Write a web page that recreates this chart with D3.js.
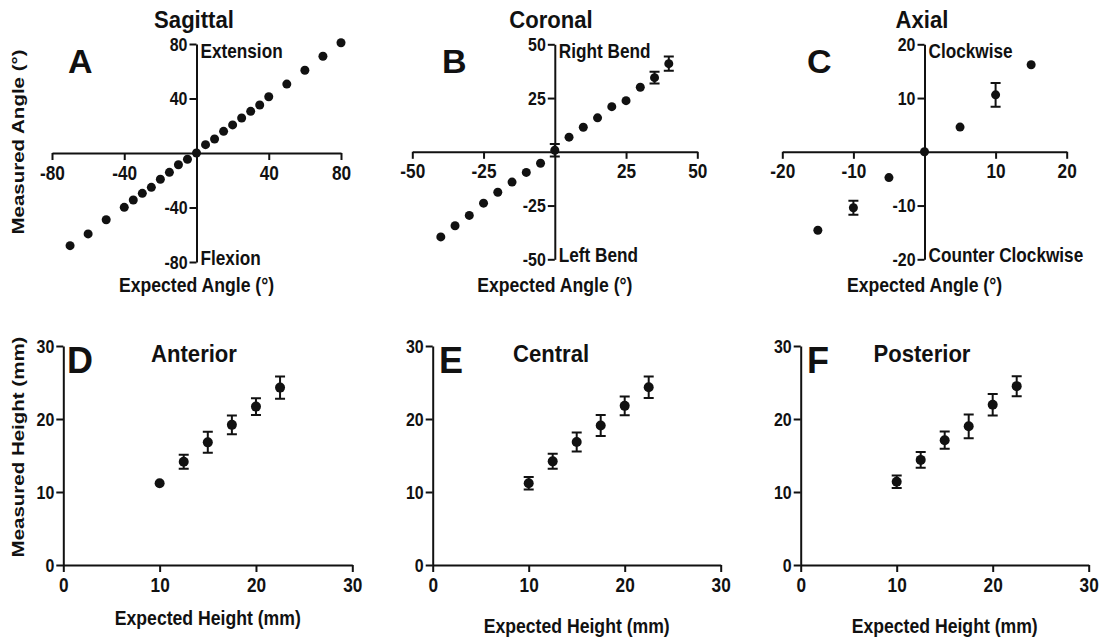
<!DOCTYPE html>
<html>
<head>
<meta charset="utf-8">
<script src="https://cdn.jsdelivr.net/npm/d3@7"></script>
<style>
  body { margin: 0; background: #fff; }
  svg { display: block; font-family: "Liberation Sans", Arial, sans-serif; font-weight: bold; }
</style>
</head>
<body>
<svg id="chart" width="1102" height="641"></svg>
<script>
// ---------- data ----------
const sagExpected = [-70, -60, -50, -40, -35, -30, -25, -20, -15, -10, -5, 0, 5, 10, 15, 20, 25, 30, 35, 40, 50, 60, 70, 80];
const sagMeasured = [-68, -59.4, -49, -39.9, -34.5, -29.6, -25.2, -19.3, -14.2, -8.6, -4.6, 0, 6.1, 10.3, 15.9, 20.6, 25.7, 30.6, 35.2, 41.3, 50.6, 60.7, 71, 80.9];
const sagTicks = [-80, -40, 40, 80];

const corExpected = [-40, -35, -30, -25, -20, -15, -10, -5, 0, 5, 10, 15, 20, 25, 30, 35, 40];
const corMeasured = [-39.6, -34.4, -29.6, -23.9, -18.8, -14.1, -9.6, -5.3, 0.7, 6.8, 11.4, 15.8, 21, 23.8, 30, 34.5, 41];
const corError = [0, 0, 0, 0, 0, 0, 0, 0, 2.9, 0, 0, 0, 0, 0, 0, 2.7, 3.3];
const corTicks = [-50, -25, 25, 50];

const axExpected = [-15, -10, -5, 0, 5, 10, 15];
const axMeasured = [-14.6, -10.4, -4.8, 0, 4.6, 10.6, 16.2];
const axError = [0, 1.3, 0, 0, 0, 2.2, 0];
const axTicks = [-20, -10, 10, 20];

const heightExpected = [10, 12.5, 15, 17.5, 20, 22.5];
const antMeasured = [11.2, 14.15, 16.8, 19.2, 21.7, 24.3];
const antError = [0, 0.96, 1.44, 1.28, 1.14, 1.53];
const cenMeasured = [11.2, 14.2, 16.85, 19.1, 21.8, 24.35];
const cenError = [0.85, 1.03, 1.3, 1.44, 1.28, 1.48];
const posMeasured = [11.4, 14.4, 17.1, 19.0, 21.95, 24.5];
const posError = [0.85, 1.07, 1.19, 1.62, 1.46, 1.37];
const heightTicks = [0, 10, 20, 30];

// ---------- layout ----------
const ink = '#111';
const panels = [
  { letter: 'A', title: 'Sagittal', xs: sagExpected, ys: sagMeasured, err: null,
    dom: [-80, 80], ticks: sagTicks, xPx: [52, 341], yPx: [262, 44], r: 4.5,
    top: 'Extension', bottom: 'Flexion', xTitle: 'Expected Angle (°)', yTitle: 'Measured Angle (°)',
    letterAt: [68, 73, 34], titleAt: [194, 28], xTitleY: 292, yTitleY: 142 },
  { letter: 'B', title: 'Coronal', xs: corExpected, ys: corMeasured, err: corError,
    dom: [-50, 50], ticks: corTicks, xPx: [412.3, 697.3], yPx: [259.3, 44.3], r: 4.5,
    top: 'Right Bend', bottom: 'Left Bend', xTitle: 'Expected Angle (°)',
    letterAt: [442, 73, 34], titleAt: [551, 28], xTitleY: 292 },
  { letter: 'C', title: 'Axial', xs: axExpected, ys: axMeasured, err: axError,
    dom: [-20, 20], ticks: axTicks, xPx: [782.3, 1066.7], yPx: [259.3, 44.3], r: 4.5,
    top: 'Clockwise', bottom: 'Counter Clockwise', xTitle: 'Expected Angle (°)',
    letterAt: [807, 73, 34], titleAt: [922, 28], xTitleY: 292 },
  { letter: 'D', title: 'Anterior', xs: heightExpected, ys: antMeasured, err: antError,
    dom: [0, 30], ticks: heightTicks, xPx: [63.3, 352.3], yPx: [565, 346], r: 5,
    xTitle: 'Expected Height (mm)', yTitle: 'Measured Height (mm)',
    letterAt: [67, 373, 36], titleAt: [194, 362], xTitleY: 625, yTitleY: 447 },
  { letter: 'E', title: 'Central', xs: heightExpected, ys: cenMeasured, err: cenError,
    dom: [0, 30], ticks: heightTicks, xPx: [432.7, 720.7], yPx: [565, 346], r: 5,
    xTitle: 'Expected Height (mm)',
    letterAt: [439, 373, 36], titleAt: [551, 362], xTitleY: 633 },
  { letter: 'F', title: 'Posterior', xs: heightExpected, ys: posMeasured, err: posError,
    dom: [0, 30], ticks: heightTicks, xPx: [800.7, 1088.7], yPx: [565, 346], r: 5,
    xTitle: 'Expected Height (mm)',
    letterAt: [807, 373, 36], titleAt: [922, 362], xTitleY: 633 }
];

const svg = d3.select('#chart');

// text helper: the figure's lettering is squeezed horizontally
const label = (g, str, x, y, size, opts = {}) => {
  const sx = opts.sx || 1;
  const rot = opts.rotate ? ' rotate(-90)' : '';
  return g.append('text')
    .attr('transform', `translate(${x},${y}) scale(${sx},1)${rot}`)
    .attr('text-anchor', opts.anchor || 'start')
    .attr('font-size', size)
    .attr('fill', ink)
    .text(str);
};

const drawPanel = (g, p) => {
  const x = d3.scaleLinear().domain(p.dom).range(p.xPx);
  const y = d3.scaleLinear().domain(p.dom).range(p.yPx);

  // axes cross at zero
  const xAxis = d3.axisBottom(x).tickValues(p.ticks).tickSize(7).tickSizeOuter(0)
    .tickPadding(5).tickFormat(d => String(d));
  const yAxis = d3.axisLeft(y).tickValues(p.ticks).tickSize(7).tickSizeOuter(0)
    .tickFormat(d => String(d));

  const xg = g.append('g').attr('transform', `translate(0,${y(0)})`).call(xAxis);
  const yg = g.append('g').attr('transform', `translate(${x(0)},0)`).call(yAxis);

  [xg, yg].forEach(a => {
    a.attr('font-family', null).attr('font-size', null);
    a.selectAll('path, line').attr('stroke', ink).attr('stroke-width', 2);
  });
  xg.selectAll('text').attr('fill', ink).attr('font-size', 20.5)
    .attr('transform', 'scale(0.84,1)');
  yg.selectAll('text').attr('fill', ink).attr('font-size', 19)
    .attr('x', 0).attr('transform', 'translate(-9,0) scale(0.84,1)');

  // error bars
  if (p.err) {
    const pts = p.xs.map((v, i) => ({ x: v, y: p.ys[i], e: p.err[i] })).filter(d => d.e > 0);
    g.selectAll('.err').data(pts).join('path')
      .attr('class', 'err')
      .attr('fill', 'none').attr('stroke', ink).attr('stroke-width', 2)
      .attr('d', d => {
        const cx = x(d.x), hi = y(d.y + d.e), lo = y(d.y - d.e);
        return `M${cx - 5},${hi}H${cx + 5}M${cx},${hi}V${lo}M${cx - 5},${lo}H${cx + 5}`;
      });
  }

  // dots
  g.selectAll('.dot').data(p.xs.map((v, i) => [v, p.ys[i]])).join('circle')
    .attr('class', 'dot')
    .attr('cx', d => x(d[0]))
    .attr('cy', d => y(d[1]))
    .attr('r', p.r)
    .attr('fill', ink);

  // lettering
  label(g, p.letter, p.letterAt[0], p.letterAt[1], p.letterAt[2]);
  label(g, p.title, p.titleAt[0], p.titleAt[1], 23.5, { anchor: 'middle', sx: 0.94 });
  if (p.top) {
    label(g, p.top, x(0) + 4, y(p.dom[1]) + 14, 20, { sx: 0.86 });
    label(g, p.bottom, x(0) + 4, y(p.dom[0]) + 3, 20, { sx: 0.86 });
  }
  label(g, p.xTitle, (p.xPx[0] + p.xPx[1]) / 2, p.xTitleY, 21, { sx: 0.84, anchor: 'middle' });
  if (p.yTitle) {
    label(g, p.yTitle, 24, p.yTitleY, 20.5, { sx: 0.84, anchor: 'middle', rotate: true });
  }
};

panels.forEach(p => svg.append('g').call(drawPanel, p));
</script>
</body>
</html>
